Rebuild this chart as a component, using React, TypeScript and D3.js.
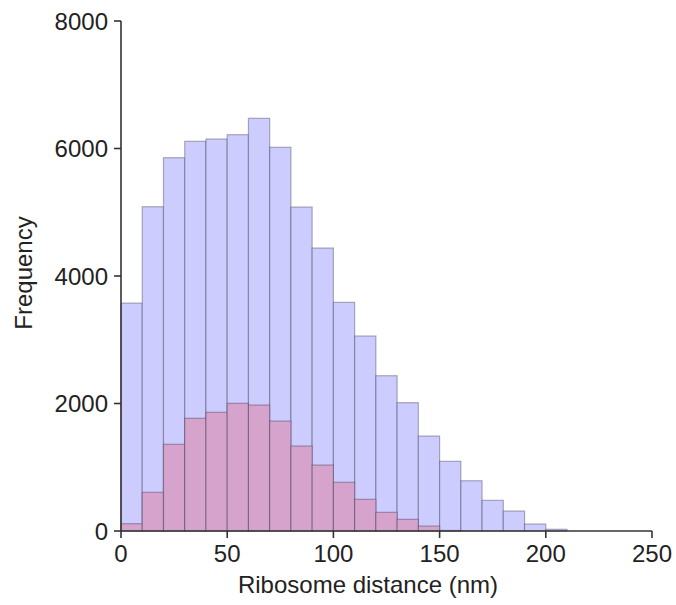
import React from "react";
import * as d3 from "d3";

// Histogram bins: 10 nm wide, starting at 0 nm
const binStarts = [0, 10, 20, 30, 40, 50, 60, 70, 80, 90, 100, 110, 120, 130, 140, 150, 160, 170, 180, 190, 200];
const binWidth = 10;

// All ribosome distances
const allCounts = [3575, 5087, 5856, 6113, 6149, 6217, 6474, 6019, 5082, 4439, 3587, 3059, 2436, 2013, 1490, 1093, 789, 481, 314, 110, 27];
// Subset overlaid on top
const subsetCounts = [115, 607, 1360, 1768, 1862, 2003, 1976, 1725, 1333, 1035, 764, 497, 293, 183, 78, 8, 0, 0, 0, 0, 0];

const xTicks = [0, 50, 100, 150, 200, 250];
const yTicks = [0, 2000, 4000, 6000, 8000];

const W = 676;
const H = 605;
const left = 121;
const right = 652;
const top = 21;
const bottom = 531;
const font = "'Liberation Sans', Arial, sans-serif";

export default function App() {
  const x = d3.scaleLinear().domain([0, 250]).range([left, right]);
  const y = d3.scaleLinear().domain([0, 8000]).range([bottom, top]);

  const bars = (counts: number[], fill: string, key: string) =>
    counts.map((c, i) =>
      c > 0 ? (
        <rect
          key={`${key}-${i}`}
          x={x(binStarts[i])}
          y={y(c)}
          width={x(binStarts[i] + binWidth) - x(binStarts[i])}
          height={y(0) - y(c)}
          fill={fill}
          stroke="rgba(40,40,60,0.35)"
          strokeWidth={1.2}
        />
      ) : null
    );

  return (
    <svg
      width={W}
      height={H}
      style={{ position: "absolute", left: 0, top: 0, background: "#fff" }}
    >
      <g>{bars(allCounts, "rgb(204,204,255)", "all")}</g>
      <g>{bars(subsetCounts, "rgb(214,163,204)", "sub")}</g>

      {/* y axis */}
      <line x1={left} x2={left} y1={top} y2={bottom} stroke="#333" strokeWidth={1.6} />
      {yTicks.map((t) => (
        <g key={`yt-${t}`}>
          <line x1={left - 7} x2={left} y1={y(t)} y2={y(t)} stroke="#333" strokeWidth={1.6} />
          <text
            x={left - 13}
            y={y(t)}
            dy="0.36em"
            textAnchor="end"
            fontFamily={font}
            fontSize={24}
            fill="#222"
          >
            {t}
          </text>
        </g>
      ))}

      {/* x axis */}
      <line x1={left} x2={right} y1={bottom} y2={bottom} stroke="#333" strokeWidth={1.6} />
      {xTicks.map((t) => (
        <g key={`xt-${t}`}>
          <line x1={x(t)} x2={x(t)} y1={bottom} y2={bottom + 7} stroke="#333" strokeWidth={1.6} />
          <text
            x={x(t)}
            y={bottom + 31}
            textAnchor="middle"
            fontFamily={font}
            fontSize={24}
            fill="#222"
          >
            {t}
          </text>
        </g>
      ))}

      <text
        x={368}
        y={593}
        textAnchor="middle"
        fontFamily={font}
        fontSize={24}
        fill="#222"
      >
        Ribosome distance (nm)
      </text>
      <text
        transform={`translate(32, 273) rotate(-90)`}
        textAnchor="middle"
        fontFamily={font}
        fontSize={24}
        fill="#222"
      >
        Frequency
      </text>
    </svg>
  );
}
